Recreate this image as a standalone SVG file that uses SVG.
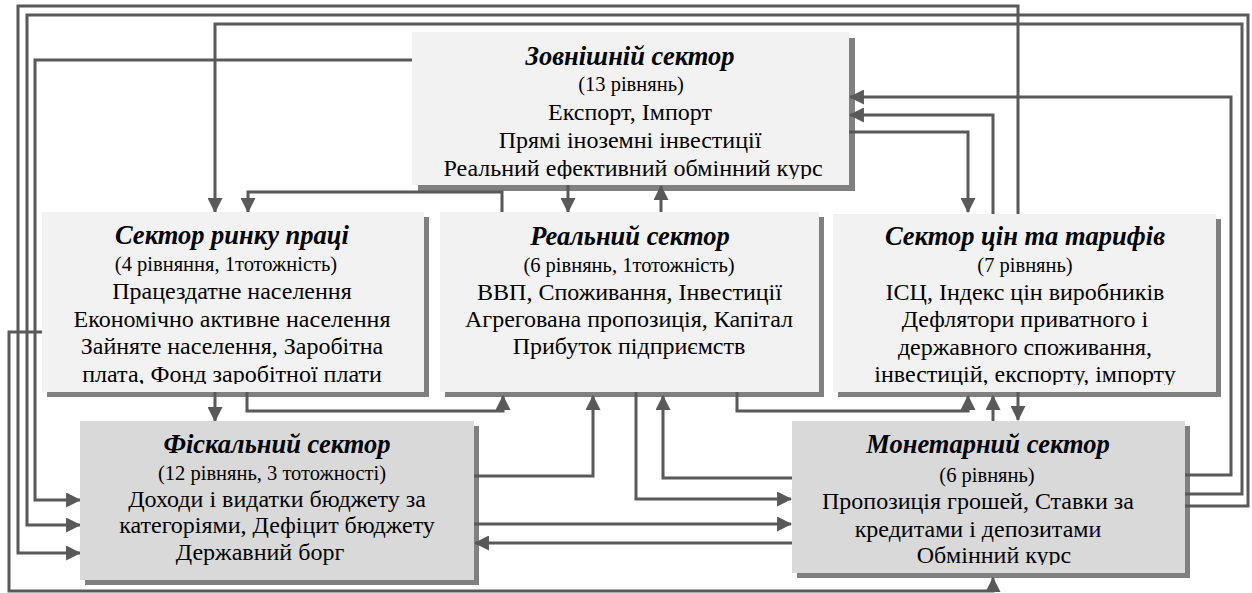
<svg xmlns="http://www.w3.org/2000/svg" width="1252" height="593" viewBox="0 0 1252 593">
<defs>
<style>
.shadow{fill:#808080}
.light{fill:#f2f2f2}
.dark{fill:#d9d9d9}
.c{fill:none;stroke:#595959;stroke-width:3}
.a{marker-end:url(#ah)}
text{font-family:"Liberation Serif","Times New Roman",serif;fill:#000;text-anchor:middle}
.t{font-size:26.5px;font-weight:bold;font-style:italic}
.s{font-size:20.5px}
.b{font-size:24px}
</style>
<marker id="ah" viewBox="0 0 14 14" refX="13" refY="7" markerWidth="15" markerHeight="15" markerUnits="userSpaceOnUse" orient="auto">
<path d="M0,0 L14,7 L0,14 z" fill="#595959"/>
</marker>
<clipPath id="cExt"><rect x="412" y="32" width="437" height="147"/></clipPath>
<clipPath id="cLab"><rect x="42" y="212" width="382" height="172"/></clipPath>
<clipPath id="cPri"><rect x="833" y="214" width="383" height="171"/></clipPath>
<clipPath id="cMon"><rect x="792" y="421" width="393" height="144"/></clipPath>
</defs>

<g id="shadows">
<rect class="shadow" x="418" y="38" width="437" height="153"/>
<rect class="shadow" x="47" y="217" width="382" height="180"/>
<rect class="shadow" x="445" y="217" width="379" height="180"/>
<rect class="shadow" x="838" y="219" width="383" height="178"/>
<rect class="shadow" x="85" y="426" width="394" height="159"/>
<rect class="shadow" x="797" y="426" width="393" height="152"/>
</g>

<g id="connectors">
<path class="c a" d="M412,60 H35 V500 H80"/>
<path class="c a" d="M1185,506 H1248 V15 H27 V525 H80"/>
<path class="c a" d="M1185,494 H1242 V24 H215 V212"/>
<path class="c a" d="M1185,475 H1231 V97 H850"/>
<path class="c a" d="M1018,214 V6 H18 V553 H80"/>
<path class="c a" d="M1018,392 V420"/>
<path class="c a" d="M849,132 H968 V212"/>
<path class="c a" d="M993,214 V115 H850"/>
<path class="c a" d="M993,421 V396"/>
<path class="c a" d="M737,392 V411 H968 V396"/>
<path class="c a" d="M568,185 V212"/>
<path class="c a" d="M661,212 V186"/>
<path class="c a" d="M502,212 V192 H248 V212"/>
<path class="c a" d="M215,392 V421"/>
<path class="c a" d="M247,392 V411 H503 V396"/>
<path class="c a" d="M474,476 H593 V396"/>
<path class="c a" d="M636,392 V499 H791"/>
<path class="c a" d="M792,478 H663 V396"/>
<path class="c a" d="M474,524 H791"/>
<path class="c a" d="M792,543 H475"/>
<path class="c a" d="M42,332 H9 V591 H993 V578"/>
</g>

<g id="external">
<rect class="light" x="412" y="32" width="437" height="153"/>
<g clip-path="url(#cExt)">
<text class="t" x="630" y="65">Зовнішній сектор</text>
<text class="s" x="631" y="91">(13 рівнянь)</text>
<text class="b" x="630" y="120">Експорт, Імпорт</text>
<text class="b" x="630" y="148">Прямі іноземні інвестиції</text>
<text class="b" x="633" y="176">Реальний ефективний обмінний курс</text>
</g>
</g>

<g id="labor">
<rect class="light" x="42" y="212" width="382" height="180"/>
<g clip-path="url(#cLab)">
<text class="t" x="232" y="244">Сектор ринку праці</text>
<text class="s" x="226" y="271">(4 рівняння, 1тотожність)</text>
<text class="b" x="232" y="299">Працездатне населення</text>
<text class="b" x="232" y="327">Економічно активне населення</text>
<text class="b" x="232" y="354">Зайняте населення, Заробітна</text>
<text class="b" x="232" y="382">плата, Фонд заробітної плати</text>
</g>
</g>

<g id="real">
<rect class="light" x="440" y="212" width="379" height="180"/>
<text class="t" x="630" y="245">Реальний сектор</text>
<text class="s" x="629" y="272">(6 рівнянь, 1тотожність)</text>
<text class="b" x="629.5" y="300">ВВП, Споживання, Інвестиції</text>
<text class="b" x="629" y="327">Агрегована пропозиція, Капітал</text>
<text class="b" x="629" y="354">Прибуток підприємств</text>
</g>

<g id="prices">
<rect class="light" x="833" y="214" width="383" height="178"/>
<g clip-path="url(#cPri)">
<text class="t" x="1025" y="245">Сектор цін та тарифів</text>
<text class="s" x="1025" y="272">(7 рівнянь)</text>
<text class="b" x="1025" y="300">ІСЦ, Індекс цін виробників</text>
<text class="b" x="1025" y="327">Дефлятори приватного і</text>
<text class="b" x="1025" y="355">державного споживання,</text>
<text class="b" x="1025" y="382">інвестицій, експорту, імпорту</text>
</g>
</g>

<g id="fiscal">
<rect class="dark" x="80" y="421" width="394" height="159"/>
<text class="t" x="277" y="453">Фіскальний сектор</text>
<text class="s" x="272" y="480">(12 рівнянь, 3 тотожності)</text>
<text class="b" x="277" y="507">Доходи і видатки бюджету за</text>
<text class="b" x="277" y="533">категоріями, Дефіцит бюджету</text>
<text class="b" x="260" y="560">Державний борг</text>
</g>

<g id="monetary">
<rect class="dark" x="792" y="421" width="393" height="152"/>
<g clip-path="url(#cMon)">
<text class="t" x="988" y="453">Монетарний сектор</text>
<text class="s" x="987" y="482">(6 рівнянь)</text>
<text class="b" x="978" y="509">Пропозиція грошей, Ставки за</text>
<text class="b" x="978" y="537">кредитами і депозитами</text>
<text class="b" x="994" y="563">Обмінний курс</text>
</g>
</g>
</svg>
